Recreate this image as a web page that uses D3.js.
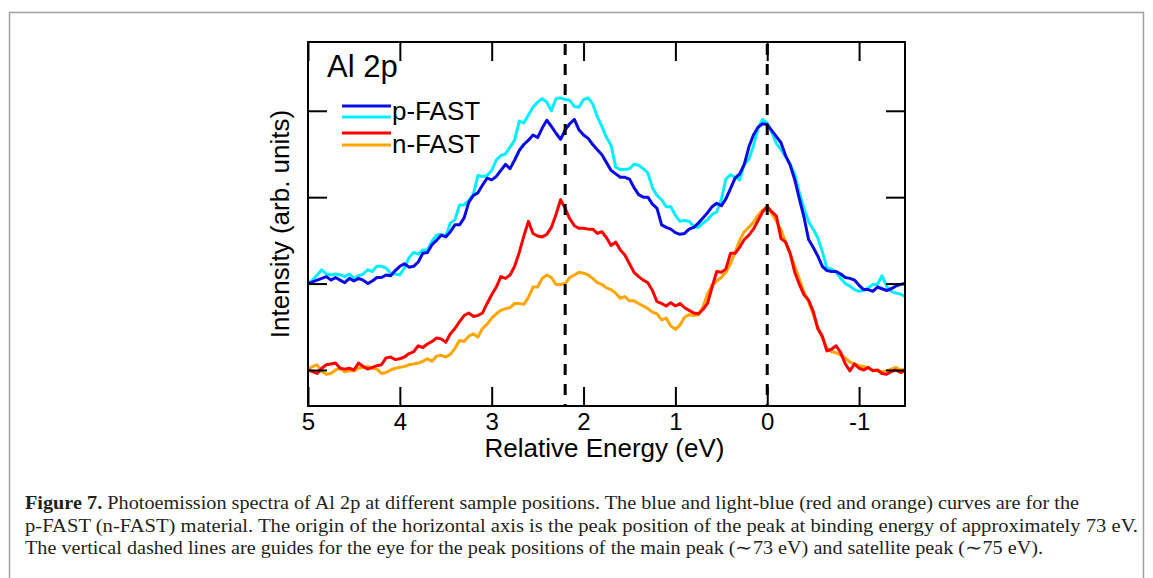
<!doctype HTML>
<meta charset="utf-8">
<style>
    body { margin: 0; background: #fff; }
    .axis text { font-family: "Liberation Sans", Arial, sans-serif; font-size: 24px; fill: #000; }
    .axis line { stroke: #000; stroke-width: 2; }
    .axis path { display: none; }
    .caption { font-family: "Liberation Serif", "Times New Roman", serif; font-size: 18.5px; fill: #231f20; }
</style>
<html>
<head>
    <script src="https://d3js.org/d3.v7.min.js"></script>
</head>
<body>
<div id="fig"></div>
<script>

    // relative energy grid (eV), from 5 down to -1.5
    var energy = [5.00,4.95,4.90,4.85,4.80,4.75,4.70,4.65,4.60,4.55,4.50,4.45,4.40,4.35,4.30,4.25,4.20,4.15,4.10,4.05,
        4.00,3.95,3.90,3.85,3.80,3.75,3.70,3.65,3.60,3.55,3.50,3.45,3.40,3.35,3.30,3.25,3.20,3.15,3.10,3.05,
        3.00,2.95,2.90,2.85,2.80,2.75,2.70,2.65,2.60,2.55,2.50,2.45,2.40,2.35,2.30,2.25,2.20,2.15,2.10,2.05,
        2.00,1.95,1.90,1.85,1.80,1.75,1.70,1.65,1.60,1.55,1.50,1.45,1.40,1.35,1.30,1.25,1.20,1.15,1.10,1.05,
        1.00,0.95,0.90,0.85,0.80,0.75,0.70,0.65,0.60,0.55,0.50,0.45,0.40,0.35,0.30,0.25,0.20,0.15,0.10,0.05,
        0.00,-0.05,-0.10,-0.15,-0.20,-0.25,-0.30,-0.35,-0.40,-0.45,-0.50,-0.55,-0.60,-0.65,-0.70,-0.75,-0.80,-0.85,-0.90,-0.95,
        -1.00,-1.05,-1.10,-1.15,-1.20,-1.25,-1.30,-1.35,-1.40,-1.45,-1.50];

    // p-FAST, blue
    var pFastBlue = [1.00,1.02,1.04,1.06,1.08,1.04,1.07,1.04,1.01,1.06,1.03,1.06,1.04,1.00,1.03,1.07,1.07,1.10,1.09,1.15,
        1.20,1.23,1.19,1.20,1.25,1.35,1.36,1.45,1.50,1.56,1.54,1.60,1.68,1.68,1.76,1.94,2.02,2.05,2.14,2.22,
        2.20,2.24,2.31,2.38,2.33,2.43,2.54,2.61,2.66,2.72,2.69,2.80,2.89,2.82,2.74,2.67,2.78,2.85,2.90,2.78,
        2.72,2.68,2.61,2.55,2.49,2.40,2.31,2.27,2.23,2.23,2.21,2.11,2.03,2.00,2.00,1.92,1.87,1.68,1.65,1.63,
        1.59,1.57,1.58,1.63,1.65,1.70,1.76,1.82,1.89,1.93,1.90,1.98,2.10,2.22,2.27,2.38,2.58,2.72,2.81,2.85,
        2.84,2.77,2.70,2.63,2.48,2.37,2.20,1.98,1.77,1.51,1.42,1.32,1.20,1.15,1.14,1.14,1.11,1.07,1.06,1.04,
        0.98,0.93,0.93,0.91,0.96,0.94,0.92,0.94,0.97,0.99,1.00];

    // p-FAST, light blue
    var pFastCyan = [1.00,1.04,1.10,1.16,1.11,1.10,1.11,1.10,1.08,1.11,1.06,1.09,1.11,1.16,1.14,1.20,1.20,1.18,1.12,1.11,
        1.10,1.18,1.30,1.36,1.34,1.39,1.39,1.49,1.56,1.57,1.55,1.70,1.74,1.91,1.91,1.96,2.03,2.25,2.24,2.25,
        2.31,2.43,2.48,2.50,2.58,2.66,2.88,2.86,2.95,3.04,3.10,3.14,3.10,3.00,3.14,3.15,3.13,3.12,3.05,3.04,
        3.13,3.15,3.08,2.93,2.82,2.69,2.60,2.35,2.32,2.32,2.33,2.38,2.37,2.33,2.28,2.11,2.02,1.97,1.89,1.89,
        1.79,1.72,1.73,1.72,1.66,1.65,1.70,1.74,1.80,1.83,1.97,2.21,2.26,2.23,2.20,2.38,2.44,2.59,2.80,2.90,
        2.86,2.75,2.62,2.55,2.47,2.38,2.26,2.05,1.87,1.72,1.63,1.53,1.37,1.18,1.17,1.13,1.06,1.00,0.97,0.93,
        0.91,0.92,0.95,0.99,0.99,1.09,0.97,0.91,0.89,0.88,0.85];

    // n-FAST, red
    var nFastRed = [0.00,-0.02,-0.04,0.02,0.06,0.07,0.08,0.02,0.01,0.02,0.00,0.08,0.04,0.01,0.03,0.05,0.06,0.14,0.15,0.12,
        0.13,0.15,0.19,0.21,0.28,0.26,0.30,0.33,0.37,0.36,0.32,0.42,0.48,0.56,0.63,0.66,0.62,0.63,0.66,0.77,
        0.87,0.96,1.08,1.06,1.10,1.20,1.36,1.55,1.72,1.58,1.55,1.54,1.57,1.65,1.80,1.97,1.87,1.75,1.67,1.64,
        1.64,1.63,1.63,1.58,1.60,1.53,1.44,1.48,1.39,1.33,1.23,1.13,1.08,1.04,1.01,0.92,0.79,0.77,0.74,0.78,
        0.74,0.77,0.72,0.69,0.66,0.65,0.70,0.77,0.96,1.14,1.13,1.17,1.35,1.35,1.42,1.51,1.56,1.63,1.73,1.83,
        1.89,1.83,1.78,1.52,1.48,1.35,1.13,0.99,0.87,0.81,0.68,0.48,0.39,0.22,0.24,0.28,0.20,0.07,-0.01,0.07,
        0.02,0.00,0.03,-0.01,0.00,-0.04,-0.05,-0.02,0.00,-0.03,-0.01];

    // n-FAST, orange
    var nFastOrange = [0.01,0.04,0.06,-0.02,-0.05,-0.04,0.00,0.02,-0.02,-0.01,-0.01,0.02,0.03,0.04,0.02,0.01,-0.04,-0.03,0.00,0.02,
        0.03,0.04,0.06,0.07,0.08,0.10,0.13,0.10,0.16,0.17,0.15,0.18,0.25,0.34,0.33,0.39,0.42,0.38,0.48,0.53,
        0.60,0.65,0.69,0.71,0.72,0.77,0.77,0.76,0.84,0.96,0.96,1.06,1.10,1.07,0.99,0.99,1.00,1.07,1.10,1.13,
        1.12,1.10,1.06,1.01,0.99,0.95,0.93,0.89,0.83,0.85,0.80,0.80,0.77,0.74,0.71,0.67,0.65,0.58,0.60,0.51,
        0.47,0.52,0.61,0.64,0.63,0.64,0.73,0.88,0.98,1.03,1.07,1.13,1.23,1.36,1.50,1.60,1.65,1.71,1.79,1.85,
        1.89,1.81,1.72,1.62,1.48,1.34,1.20,1.05,0.90,0.79,0.65,0.49,0.37,0.25,0.21,0.20,0.17,0.14,0.09,0.07,
        0.05,0.04,0.02,0.00,-0.01,-0.02,-0.01,0.01,0.03,0.00,0.01];

    var xTicks = [5, 4, 3, 2, 1, 0, -1];
    var yTicks = [0, 1, 2, 3];
    var peakGuides = [2.2, 0];
    var legendNames = ["p-FAST", "n-FAST"];

    var captionLines = [
        "Photoemission spectra of Al 2p at different sample positions. The blue and light-blue (red and orange) curves are for the",
        "p-FAST (n-FAST) material. The origin of the horizontal axis is the peak position of the peak at binding energy of approximately 73 eV.",
        "The vertical dashed lines are guides for the eye for the peak positions of the main peak (\u223c73 eV) and satellite peak (\u223c75 eV)."
    ];

    var series = [
        {name: "p-FAST", values: pFastCyan, color: "#00eeff"},
        {name: "p-FAST", values: pFastBlue, color: "#0a0ae6"},
        {name: "n-FAST", values: nFastOrange, color: "#ffa500"},
        {name: "n-FAST", values: nFastRed, color: "#ff0000"}
    ];

    // set the dimensions and margins of the graph
    var margin = {top: 42, left: 308},
        width = 597,
        height = 364;

    var root = d3.select("#fig")
        .append("svg")
        .attr("width", 1153)
        .attr("height", 578);

    // figure frame
    root.append("rect")
        .attr("x", 9.5).attr("y", 12.5)
        .attr("width", 1134).attr("height", 620)
        .attr("fill", "none")
        .attr("stroke", "#a0a0a0")
        .attr("stroke-width", 1.5);

    var svg = root.append("g")
        .attr("transform", "translate(" + margin.left + "," + margin.top + ")");

    var x = d3.scaleLinear().domain([5, -1.5]).range([0, width]);
    var y = d3.scaleLinear().domain([-0.417, 3.796]).range([height, 0]);

    var line = d3.line()
        .x(function(d, i) { return x(energy[i]); })
        .y(function(d) { return y(d); });

    // curves
    series.forEach(function(s) {
        svg.append("path")
            .datum(s.values)
            .attr("fill", "none")
            .attr("stroke", s.color)
            .attr("stroke-width", 3)
            .attr("stroke-linejoin", "round")
            .attr("d", line);
    });

    // dashed guides
    svg.selectAll(".guide")
        .data(peakGuides)
        .enter().append("line")
        .attr("class", "guide")
        .attr("x1", function(d) { return x(d); })
        .attr("x2", function(d) { return x(d); })
        .attr("y1", 2)
        .attr("y2", height)
        .attr("stroke", "#000")
        .attr("stroke-width", 3)
        .attr("stroke-dasharray", "11,9");

    // axes, ticks inside
    svg.append("g")
        .attr("class", "axis")
        .attr("transform", "translate(0," + height + ")")
        .call(d3.axisBottom(x).tickValues(xTicks).tickSizeInner(-19).tickSizeOuter(0).tickPadding(7)
            .tickFormat(function(d) { return String(d); }));

    svg.append("g")
        .attr("class", "axis")
        .call(d3.axisTop(x).tickValues(xTicks).tickSizeInner(-19).tickSizeOuter(0).tickFormat(""));

    svg.append("g")
        .attr("class", "axis")
        .call(d3.axisLeft(y).tickValues(yTicks).tickSizeInner(-19).tickSizeOuter(0).tickFormat(""));

    svg.append("g")
        .attr("class", "axis")
        .attr("transform", "translate(" + width + ",0)")
        .call(d3.axisRight(y).tickValues(yTicks).tickSizeInner(-19).tickSizeOuter(0).tickFormat(""));

    // plot frame
    svg.append("rect")
        .attr("width", width)
        .attr("height", height)
        .attr("fill", "none")
        .attr("stroke", "#000")
        .attr("stroke-width", 2);

    // axis titles
    svg.append("text")
        .attr("x", width / 2 - 2)
        .attr("y", height + 51)
        .attr("text-anchor", "middle")
        .style("font-family", "Liberation Sans, Arial, sans-serif")
        .style("font-size", "26px")
        .text("Relative Energy (eV)");

    svg.append("text")
        .attr("transform", "translate(-19," + (height / 2) + ") rotate(-90)")
        .attr("text-anchor", "middle")
        .style("font-family", "Liberation Sans, Arial, sans-serif")
        .style("font-size", "26px")
        .text("Intensity (arb. units)");

    svg.append("text")
        .attr("x", 19)
        .attr("y", 35)
        .style("font-family", "Liberation Sans, Arial, sans-serif")
        .style("font-size", "31px")
        .text("Al 2p");

    // legend
    var legendRows = [
        {y: 64, color: series[1].color}, {y: 75, color: series[0].color},
        {y: 91, color: series[3].color}, {y: 103, color: series[2].color}
    ];
    svg.selectAll(".legline")
        .data(legendRows)
        .enter().append("line")
        .attr("x1", 34).attr("x2", 83)
        .attr("y1", function(d) { return d.y; })
        .attr("y2", function(d) { return d.y; })
        .attr("stroke", function(d) { return d.color; })
        .attr("stroke-width", 3);

    svg.selectAll(".legtext")
        .data(legendNames)
        .enter().append("text")
        .attr("x", 84)
        .attr("y", function(d, i) { return 78 + i * 33; })
        .style("font-family", "Liberation Sans, Arial, sans-serif")
        .style("font-size", "26px")
        .text(function(d) { return d; });

    // caption
    var capWidths = [1054, 1113, 1018];
    var cap = root.selectAll(".caption")
        .data(captionLines)
        .enter().append("text")
        .attr("class", "caption")
        .attr("x", 25)
        .attr("y", function(d, i) { return 509 + i * 22.5; })
        .attr("textLength", function(d, i) { return capWidths[i]; })
        .attr("lengthAdjust", "spacingAndGlyphs");

    cap.filter(function(d, i) { return i === 0; })
        .append("tspan")
        .style("font-weight", "bold")
        .text("Figure 7. ");
    cap.append("tspan")
        .text(function(d) { return d; });

</script>
</body>
</html>
